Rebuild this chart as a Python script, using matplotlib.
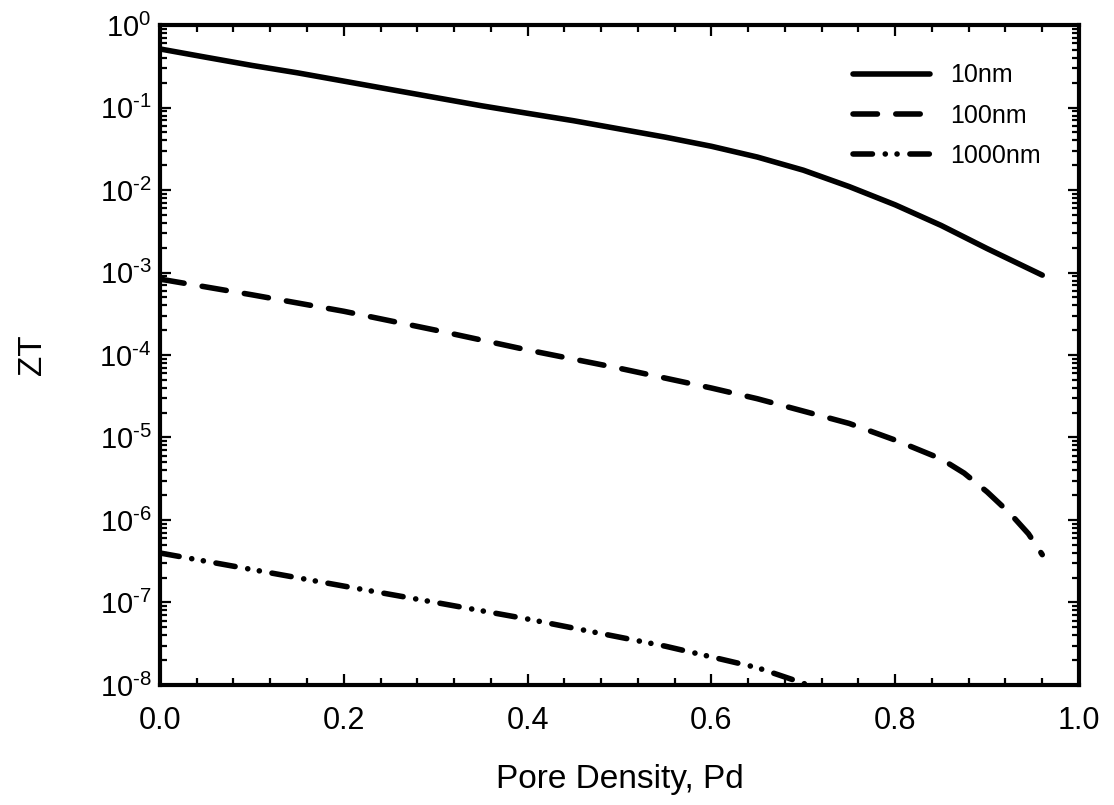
import numpy as np
import matplotlib
matplotlib.use("Agg")
import matplotlib.pyplot as plt
from matplotlib.ticker import LogLocator, MultipleLocator, FuncFormatter, NullFormatter

plt.rcParams['font.family'] = ['Liberation Sans', 'DejaVu Sans']
plt.rcParams['mathtext.fontset'] = 'custom'
plt.rcParams['mathtext.rm'] = 'Liberation Sans'

# ZT vs pore density
x_10 = [0.0, 0.05, 0.1, 0.15, 0.2, 0.25, 0.3, 0.35, 0.4, 0.45, 0.5, 0.55, 0.6,
        0.65, 0.7, 0.75, 0.8, 0.85, 0.9, 0.96]
zt_10 = [0.513, 0.407, 0.324, 0.263, 0.209, 0.166, 0.132, 0.105, 0.0851, 0.0692,
         0.0550, 0.0437, 0.0339, 0.0251, 0.0174, 0.0110, 0.00661, 0.00372,
         0.00195, 0.00093]

x_100 = [0.0, 0.1, 0.2, 0.3, 0.4, 0.5, 0.6, 0.65, 0.7, 0.75, 0.8, 0.85, 0.875,
         0.9, 0.925, 0.945, 0.96]
zt_100 = [8.32e-4, 5.37e-4, 3.39e-4, 2.0e-4, 1.15e-4, 6.9e-5, 3.98e-5, 2.95e-5,
          2.09e-5, 1.48e-5, 9.3e-6, 5.5e-6, 3.7e-6, 2.19e-6, 1.20e-6, 6.8e-7,
          3.8e-7]

x_1000 = [0.0, 0.1, 0.2, 0.3, 0.4, 0.5, 0.55, 0.6, 0.65, 0.7, 0.72]
zt_1000 = [3.98e-7, 2.51e-7, 1.58e-7, 1.0e-7, 6.3e-8, 3.8e-8, 2.95e-8, 2.19e-8,
           1.62e-8, 1.05e-8, 8.3e-9]

labels = ['10nm', '100nm', '1000nm']


def sci_label(v, pos):
    e = int(round(np.log10(v)))
    sign = '\u2010' if e < 0 else ''
    return r'$\mathregular{10^{%s%d}}$' % (sign, abs(e))


fig = plt.figure(figsize=(11.14, 8.05), dpi=100)
ax = fig.add_axes([0.1436, 0.1491, 0.825, 0.8198])

lw = 4.0
ax.plot(x_10, zt_10, color='black', lw=lw, solid_capstyle='round',
        solid_joinstyle='round', label=labels[0])
ax.plot(x_100, zt_100, color='black', lw=lw, dash_capstyle='round',
        linestyle=(0, (4.4, 3.3)), label=labels[1])
ax.plot(x_1000, zt_1000, color='black', lw=lw, dash_capstyle='round',
        linestyle=(0, (3.5, 2.3, 0.02, 2.1, 0.02, 2.3)), label=labels[2])

ax.set_yscale('log')
ax.set_xlim(0, 1.0)
ax.set_ylim(1e-8, 1e0)

ax.xaxis.set_major_locator(MultipleLocator(0.2))
ax.xaxis.set_minor_locator(MultipleLocator(0.04))
ax.xaxis.set_major_formatter(FuncFormatter(lambda v, p: '%.1f' % v))
ax.yaxis.set_major_locator(LogLocator(base=10, numticks=20))
ax.yaxis.set_minor_locator(LogLocator(base=10, subs=np.arange(2, 10), numticks=20))
ax.yaxis.set_major_formatter(FuncFormatter(sci_label))
ax.yaxis.set_minor_formatter(NullFormatter())

ax.tick_params(which='both', direction='in', top=True, right=True,
               width=1.6, color='black')
ax.tick_params(which='major', length=8)
ax.tick_params(which='minor', length=5)
ax.tick_params(axis='x', which='major', labelsize=22, pad=15)
ax.tick_params(axis='y', which='major', labelsize=21, pad=6)
for s in ax.spines.values():
    s.set_linewidth(3)

ax.set_xlabel('Pore Density, Pd', fontsize=24, va='top')
ax.set_ylabel('ZT', fontsize=24)
ax.xaxis.set_label_coords(0.5, -0.12)
ax.yaxis.set_label_coords(-0.122, 0.5)

ax.legend(loc='upper right', bbox_to_anchor=(0.983, 0.976), frameon=False,
          fontsize=18, handlelength=3.1, handletextpad=0.8, labelspacing=0.65)

fig.savefig('out.png', dpi=100)
